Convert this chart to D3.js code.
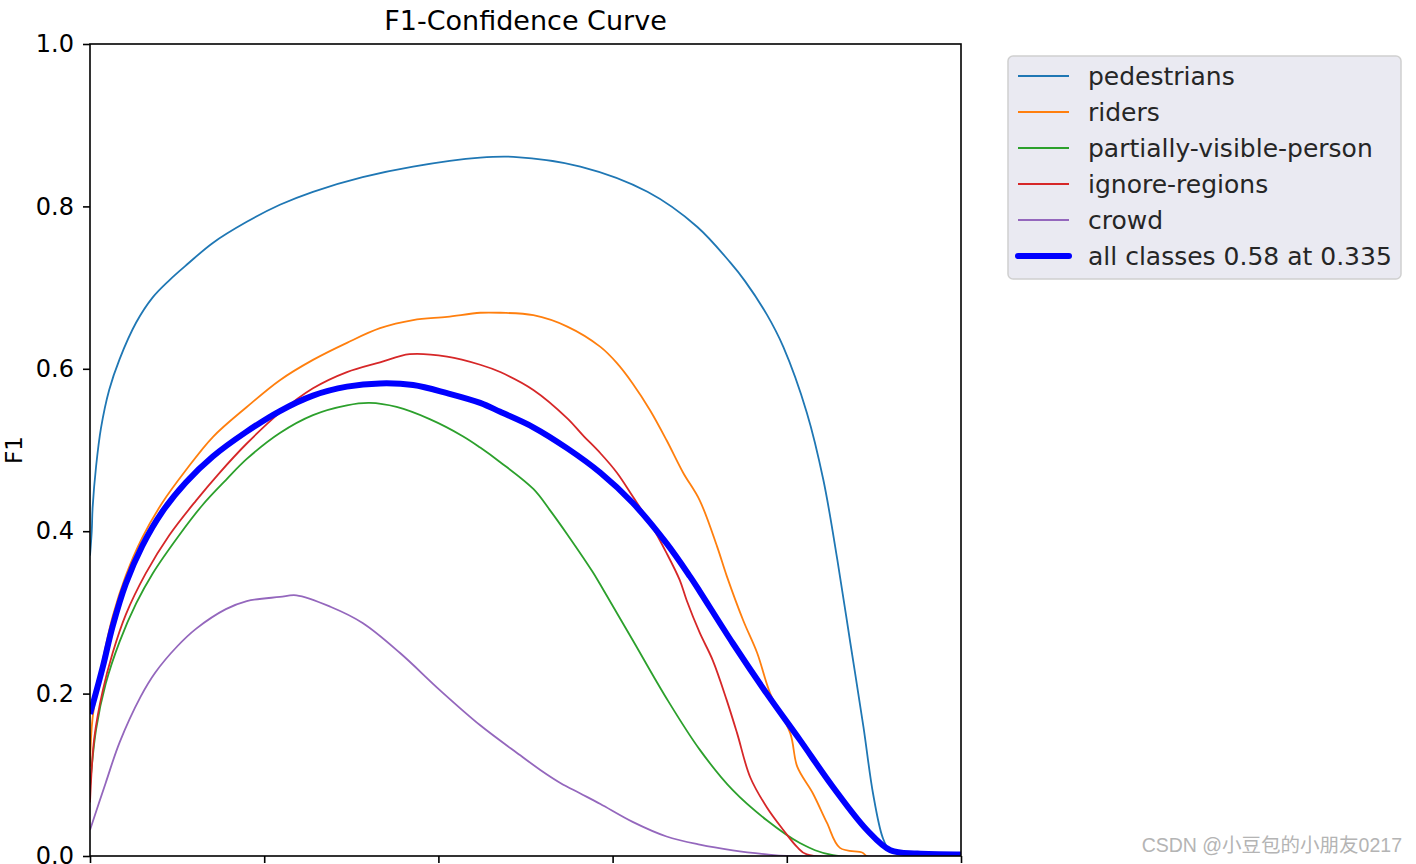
<!DOCTYPE html>
<html>
<head>
<meta charset="utf-8">
<script src="https://cdn.jsdelivr.net/npm/d3@7"></script>
<style>
  body { margin: 0; background: #fff; }
  svg { display: block; font-family: "DejaVu Sans", sans-serif; }
</style>
</head>
<body>
<svg id="chart" width="1416" height="864"></svg>
<script>
// --- data (confidence, F1) ---
const pedestrians = [
  [0.000, 0.37], [0.002, 0.40], [0.003, 0.429], [0.007, 0.48], [0.0126, 0.527],
  [0.022, 0.574], [0.034, 0.612], [0.053, 0.657], [0.072, 0.688], [0.091, 0.709],
  [0.112, 0.729], [0.141, 0.755], [0.180, 0.781], [0.218, 0.802], [0.256, 0.818],
  [0.313, 0.836], [0.371, 0.849], [0.448, 0.860], [0.486, 0.861], [0.563, 0.849],
  [0.640, 0.818], [0.697, 0.775], [0.735, 0.731], [0.752, 0.708], [0.777, 0.667],
  [0.796, 0.627], [0.823, 0.546], [0.842, 0.463], [0.858, 0.365], [0.873, 0.262],
  [0.888, 0.159], [0.899, 0.077], [0.910, 0.023], [0.918, 0.007], [0.930, 0.003],
  [1.000, 0.002]
];
const riders = [
  [0.000, 0.11], [0.003, 0.17], [0.0145, 0.24], [0.026, 0.295], [0.041, 0.345],
  [0.060, 0.392], [0.083, 0.435], [0.110, 0.475], [0.141, 0.516], [0.180, 0.553],
  [0.218, 0.586], [0.256, 0.611], [0.295, 0.632], [0.333, 0.650], [0.371, 0.660],
  [0.410, 0.664], [0.448, 0.669], [0.471, 0.669], [0.509, 0.666], [0.548, 0.652],
  [0.586, 0.627], [0.605, 0.607], [0.623, 0.582], [0.643, 0.549], [0.662, 0.512],
  [0.681, 0.472], [0.700, 0.438], [0.720, 0.381], [0.731, 0.345], [0.750, 0.290],
  [0.766, 0.250], [0.781, 0.200], [0.804, 0.151], [0.812, 0.110], [0.830, 0.077],
  [0.846, 0.041], [0.861, 0.010], [0.887, 0.004], [0.892, 0.000], [1.000, 0.000]
];
const partiallyVisible = [
  [0.000, 0.085], [0.007, 0.156], [0.018, 0.212], [0.034, 0.264], [0.053, 0.311],
  [0.072, 0.348], [0.103, 0.396], [0.129, 0.432], [0.156, 0.463], [0.180, 0.489],
  [0.218, 0.521], [0.256, 0.543], [0.295, 0.555], [0.321, 0.558], [0.352, 0.553],
  [0.390, 0.538], [0.428, 0.517], [0.448, 0.503], [0.471, 0.485], [0.509, 0.452],
  [0.528, 0.426], [0.548, 0.396], [0.577, 0.350], [0.586, 0.334], [0.623, 0.266],
  [0.662, 0.194], [0.700, 0.131], [0.738, 0.081], [0.777, 0.044], [0.815, 0.016],
  [0.853, 0.001], [1.000, 0.000]
];
const ignoreRegions = [
  [0.000, 0.066], [0.005, 0.146], [0.0145, 0.203], [0.026, 0.25], [0.041, 0.297],
  [0.064, 0.348], [0.091, 0.395], [0.122, 0.438], [0.148, 0.471], [0.180, 0.508],
  [0.218, 0.546], [0.256, 0.576], [0.295, 0.596], [0.333, 0.608], [0.367, 0.618],
  [0.410, 0.615], [0.448, 0.605], [0.471, 0.596], [0.509, 0.574], [0.548, 0.539],
  [0.566, 0.518], [0.586, 0.496], [0.605, 0.472], [0.623, 0.443], [0.643, 0.410],
  [0.662, 0.373], [0.677, 0.340], [0.685, 0.315], [0.700, 0.275], [0.715, 0.241],
  [0.731, 0.192], [0.743, 0.151], [0.758, 0.097], [0.777, 0.060], [0.796, 0.032],
  [0.812, 0.011], [0.823, 0.002], [1.000, 0.000]
];
const crowd = [
  [0.000, 0.032], [0.018, 0.09], [0.034, 0.14], [0.058, 0.196], [0.075, 0.226],
  [0.100, 0.258], [0.122, 0.280], [0.156, 0.304], [0.180, 0.314], [0.218, 0.319],
  [0.237, 0.321], [0.276, 0.307], [0.313, 0.287], [0.356, 0.250], [0.402, 0.204],
  [0.448, 0.161], [0.494, 0.124], [0.517, 0.106], [0.540, 0.090], [0.563, 0.077],
  [0.586, 0.064], [0.623, 0.042], [0.662, 0.024], [0.700, 0.014], [0.738, 0.007],
  [0.777, 0.002], [0.800, 0.000], [1.000, 0.000]
];
const allClasses = [
  [0.000, 0.175], [0.004, 0.19], [0.0145, 0.232], [0.026, 0.283], [0.041, 0.335],
  [0.060, 0.382], [0.083, 0.424], [0.110, 0.460], [0.141, 0.492], [0.179, 0.522],
  [0.218, 0.548], [0.256, 0.567], [0.295, 0.578], [0.333, 0.582], [0.371, 0.580],
  [0.410, 0.570], [0.448, 0.558], [0.471, 0.547], [0.509, 0.528], [0.548, 0.502],
  [0.586, 0.472], [0.623, 0.435], [0.662, 0.385], [0.689, 0.344], [0.700, 0.326],
  [0.738, 0.262], [0.777, 0.200], [0.815, 0.143], [0.853, 0.085], [0.892, 0.032],
  [0.919, 0.007], [0.950, 0.003], [1.000, 0.002]
];

const seriesNames = ["pedestrians", "riders", "partially-visible-person", "ignore-regions", "crowd", "all classes 0.58 at 0.335"];
const seriesColors = ["#1f77b4", "#ff7f0e", "#2ca02c", "#d62728", "#9467bd", "#0000ff"];
const xTicks = [0, 0.2, 0.4, 0.6, 0.8, 1.0];
const yTicks = [0, 0.2, 0.4, 0.6, 0.8, 1.0];

const series = [pedestrians, riders, partiallyVisible, ignoreRegions, crowd, allClasses];

// --- layout ---
const svg = d3.select("#chart");
const m = { left: 90, right: 961, top: 44, bottom: 856 };

const x = d3.scaleLinear().domain([0, 1]).range([m.left, m.right]);
const y = d3.scaleLinear().domain([0, 1]).range([m.bottom, m.top]);

svg.append("defs").append("clipPath").attr("id", "plotClip")
  .append("rect").attr("x", m.left).attr("y", m.top - 4)
  .attr("width", m.right - m.left).attr("height", m.bottom - m.top + 4);

const line = d3.line()
  .x(d => x(d[0]))
  .y(d => y(d[1]))
  .curve(d3.curveCatmullRom.alpha(0.5));

const plot = svg.append("g").attr("clip-path", "url(#plotClip)");
series.forEach((s, i) => {
  plot.append("path")
    .datum(s)
    .attr("fill", "none")
    .attr("stroke", seriesColors[i])
    .attr("stroke-width", i === 5 ? 6 : 1.8)
    .attr("stroke-linejoin", "round")
    .attr("d", line);
});

// spines
svg.append("rect")
  .attr("x", m.left).attr("y", m.top)
  .attr("width", m.right - m.left).attr("height", m.bottom - m.top)
  .attr("fill", "none").attr("stroke", "#000").attr("stroke-width", 1.6);

// axes (x tick labels fall below the picture edge, as in the reference)
const yAxis = svg.append("g")
  .attr("transform", `translate(${m.left},0)`)
  .call(d3.axisLeft(y).tickValues(yTicks).tickFormat(d3.format(".1f")).tickSize(7).tickPadding(9));
const xAxis = svg.append("g")
  .attr("transform", `translate(0,${m.bottom})`)
  .call(d3.axisBottom(x).tickValues(xTicks).tickFormat("").tickSize(7));

[yAxis, xAxis].forEach(a => {
  a.select(".domain").remove();
  a.selectAll(".tick line").attr("stroke", "#000").attr("stroke-width", 1.6);
  a.selectAll(".tick text").attr("fill", "#000")
    .style("font-family", "DejaVu Sans").style("font-size", "24px");
});

// title + label
svg.append("text")
  .attr("x", (m.left + m.right) / 2).attr("y", 30)
  .attr("text-anchor", "middle")
  .style("font-size", "27px").attr("fill", "#000")
  .text("F1-Confidence Curve");

svg.append("text")
  .attr("transform", `translate(22,${(m.top + m.bottom) / 2}) rotate(-90)`)
  .attr("text-anchor", "middle")
  .style("font-size", "23px").attr("fill", "#000")
  .text("F1");

// legend
const legend = svg.append("g").attr("transform", "translate(1008,56)");
legend.append("rect")
  .attr("width", 393).attr("height", 223)
  .attr("rx", 5)
  .attr("fill", "#eaeaf2").attr("stroke", "#d0d0d0").attr("stroke-width", 1.5);

seriesNames.forEach((name, i) => {
  const cy = 20 + i * 36;
  legend.append("line")
    .attr("x1", 10).attr("x2", 61)
    .attr("y1", cy).attr("y2", cy)
    .attr("stroke", seriesColors[i])
    .attr("stroke-width", i === 5 ? 6 : 1.8)
    .attr("stroke-linecap", i === 5 ? "round" : "butt");
  legend.append("text")
    .attr("x", 80).attr("y", cy + 9)
    .style("font-size", "25px").attr("fill", "#262626")
    .text(name);
});

// watermark
svg.append("text")
  .attr("x", 1402).attr("y", 852)
  .attr("text-anchor", "end")
  .style("font-family", "'Liberation Sans', 'Noto Sans CJK SC', sans-serif")
  .style("font-size", "19.5px").attr("fill", "#b4b4b4")
  .text("CSDN @小豆包的小朋友0217");
</script>
</body>
</html>
